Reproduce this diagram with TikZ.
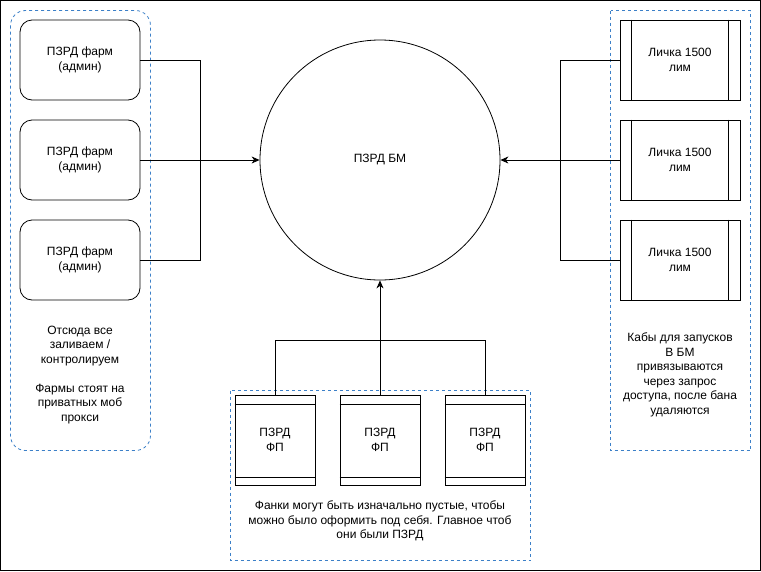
\documentclass[tikz,border=0pt]{standalone}
\usepackage{fontspec}
\setmainfont{Liberation Sans}
\usetikzlibrary{arrows.meta,positioning}
\definecolor{INK}{HTML}{000000}
\definecolor{GRP}{HTML}{3C80C8}

\begin{document}
\begin{tikzpicture}[
    x=1pt, y=-1pt,
    font=\fontsize{12}{14.5}\selectfont,
    farm/.style={draw=INK, line width=0.8pt, rounded corners=12pt, minimum width=120pt, minimum height=80pt, inner sep=0pt, align=center},
    lichka/.style={draw=INK, line width=0.8pt, minimum width=120pt, minimum height=80pt, inner sep=0pt, align=center},
    fanpage/.style={draw=INK, line width=0.8pt, minimum width=80pt, minimum height=90pt, inner sep=0pt, align=center},
    hub/.style={circle, draw=INK, line width=0.8pt, minimum size=240pt, inner sep=0pt},
    grp/.style={draw=GRP, line width=0.8pt, dash pattern=on 3pt off 3pt},
    wire/.style={draw=INK, line width=0.8pt},
    arr/.style={wire, -{Stealth[length=8pt, width=7pt, inset=2.5pt]}},
    note/.style={align=center, text=INK},
  ]
  \useasboundingbox (0,0) rectangle (761,571);
  \draw[INK, line width=1pt] (0.5,0.5) rectangle (760.5,570.5);

  % ===== groups =====
  \draw[grp, rounded corners=15pt] (10.5,10.5) rectangle (150.5,450.5);
  \draw[grp] (610.5,10.5) rectangle (750.5,450.5);
  \draw[grp] (230.5,390.5) rectangle (530.5,560.5);

  % ===== centre =====
  \node[hub] (bm) at (380,160) {ПЗРД БМ};

  % ===== LEFT: farms =====
  \foreach \i/\y in {0/60,1/160,2/260} {
    \node[farm] (f\i) at (80,\y) {ПЗРД фарм\\(админ)};
  }
  \coordinate (lj) at (200,160);
  \draw[wire] (f0.east) -| (lj);
  \draw[wire] (f2.east) -| (lj);
  \draw[wire] (f1.east) -- (lj);
  \draw[arr] (lj) -- (bm.west);
  \node[note] (lnote) at (80,375)
    {Отсюда все\\заливаем /\\контролируем\\[14.5pt]Фармы стоят на\\приватных моб\\прокси};

  % ===== RIGHT: lichki =====
  \foreach \i/\y in {0/60,1/160,2/260} {
    \node[lichka] (l\i) at (680,\y) {Личка 1500\\лим};
    \draw[wire] ([xshift=12pt]l\i.north west) -- ([xshift=12pt]l\i.south west);
    \draw[wire] ([xshift=-12pt]l\i.north east) -- ([xshift=-12pt]l\i.south east);
  }
  \coordinate (rj) at (560,160);
  \draw[wire] (l0.west) -| (rj);
  \draw[wire] (l2.west) -| (rj);
  \draw[wire] (l1.west) -- (rj);
  \draw[arr] (rj) -- (bm.east);
  \node[note] (rnote) at (680,375)
    {Кабы для запусков\\В БМ\\привязываются\\через запрос\\доступа, после бана\\удаляются};

  % ===== BOTTOM: fan pages =====
  \foreach \i/\x in {0/275,1/380,2/485} {
    \node[fanpage] (p\i) at (\x,440) {ПЗРД\\ФП};
    \draw[wire] ([yshift=-10pt]p\i.north west) -- ([yshift=-10pt]p\i.north east);
    \draw[wire] ([yshift=8pt]p\i.south west) -- ([yshift=8pt]p\i.south east);
  }
  \coordinate (bj) at (380,340);
  \draw[wire] (p0.north) |- (bj);
  \draw[wire] (p2.north) |- (bj);
  \draw[wire] (p1.north) -- (bj);
  \draw[arr] (bj) -- (bm.south);
  \node[note] (bnote) at (380,521)
    {Фанки могут быть изначально пустые, чтобы\\можно было оформить под себя. Главное чтоб\\они были ПЗРД};

\end{tikzpicture}
\end{document}
